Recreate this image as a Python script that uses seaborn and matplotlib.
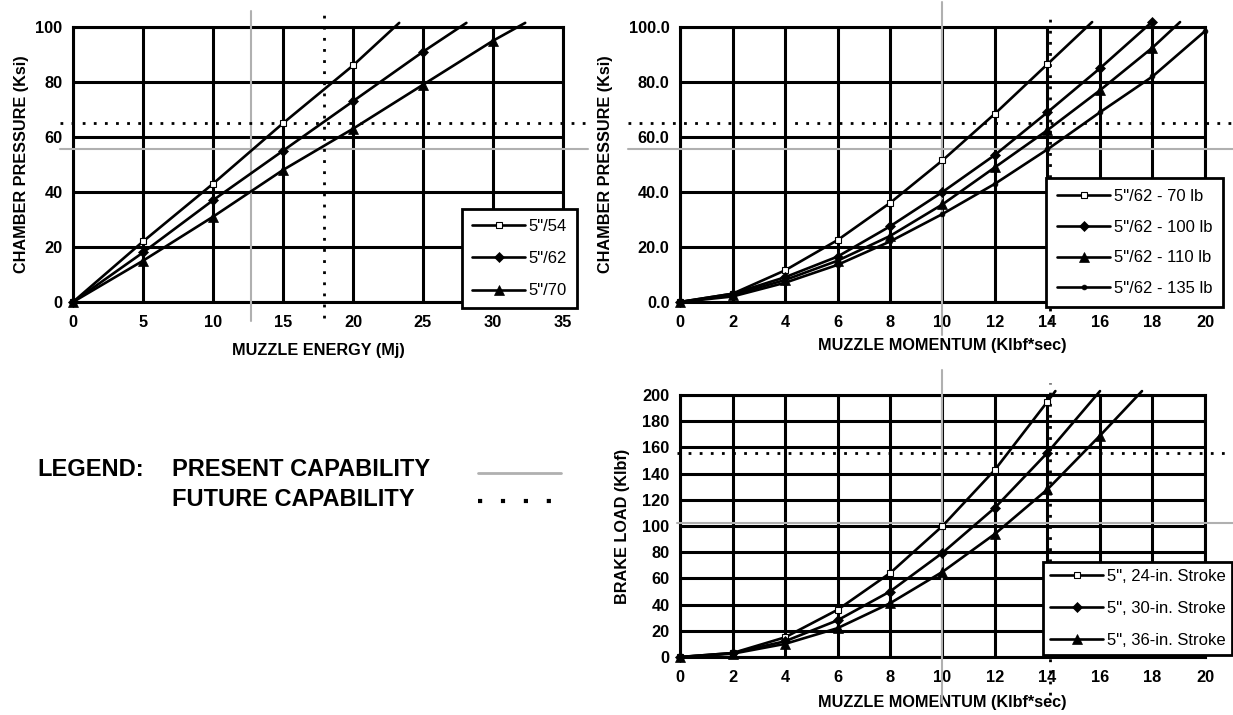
import matplotlib
matplotlib.use('Agg')
import matplotlib.pyplot as plt
from matplotlib.lines import Line2D
import seaborn as sns
import numpy as np

# --- data ---
# top left: chamber pressure vs muzzle energy
energy_54 = [0, 5, 10, 15, 20, 23.3]
press_54 = [0, 22, 43, 65, 86, 101.5]
energy_62 = [0, 5, 10, 15, 20, 25, 28.1]
press_62 = [0, 18, 37, 55, 73, 91, 101.5]
energy_70 = [0, 5, 10, 15, 20, 25, 30, 32.3]
press_70 = [0, 15, 31, 48, 63, 79, 95, 101.5]

# top right: chamber pressure vs muzzle momentum
mom_70lb = [0, 2, 4, 6, 8, 10, 12, 14, 15.7]
press_70lb = [0, 3, 11.5, 22.5, 36, 51.5, 68.5, 86.5, 101.8]
mom_100lb = [0, 2, 4, 6, 8, 10, 12, 14, 16, 18]
press_100lb = [0, 3, 9, 16.5, 27.5, 40, 53.5, 69, 85, 102]
mom_110lb = [0, 2, 4, 6, 8, 10, 12, 14, 16, 18, 19.05]
press_110lb = [0, 2.5, 8, 15, 24, 35.5, 49, 62.5, 77, 92.5, 101.8]
mom_135lb = [0, 2, 4, 6, 8, 10, 12, 14, 16, 18, 20]
press_135lb = [0, 2, 7, 13.5, 22, 32, 43, 55.5, 69, 82, 98.5]

# bottom right: brake load vs muzzle momentum
mom_24 = [0, 2, 4, 6, 8, 10, 12, 14, 14.3]
load_24 = [0, 3, 15, 36, 64, 100, 143, 195, 203]
mom_30 = [0, 2, 4, 6, 8, 10, 12, 14, 16]
load_30 = [0, 3, 12, 28, 50, 79.5, 114, 156, 203]
mom_36 = [0, 2, 4, 6, 8, 10, 12, 14, 16, 17.6]
load_36 = [0, 2.5, 10, 22, 41, 65, 94, 128, 169, 203]

# capability limits (present = gray solid, future = black dotted)
tl_present_x, tl_present_y = 12.7, 55.5
tl_future_x, tl_future_y = 17.9, 65
tr_present_x, tr_present_y = 10, 55.5
tr_future_x, tr_future_y = 14.1, 65
br_present_x, br_present_y = 10, 102
br_future_x, br_future_y = 14.1, 155.5

sns.set_theme(style='white')
plt.rcParams['font.family'] = ['Liberation Sans', 'DejaVu Sans']
plt.rcParams['text.color'] = 'black'
plt.rcParams['axes.labelcolor'] = 'black'
plt.rcParams['xtick.color'] = 'black'
plt.rcParams['ytick.color'] = 'black'

W, H = 1233, 715
fig = plt.figure(figsize=(W / 100, H / 100), dpi=100)

def px_rect(left, right, top, bottom):
    return [left / W, 1 - bottom / H, (right - left) / W, (bottom - top) / H]

ax_tl = fig.add_axes(px_rect(73, 563, 27, 302))
ax_tr = fig.add_axes(px_rect(680, 1205, 27, 302))
ax_br = fig.add_axes(px_rect(680, 1205, 395, 657))

GRAY = '#b0b0b0'
DOT = (0, (1, 3))
LABEL_FS = 11.7
TICK_FS = 11.8

open_mk = dict(marker='s', markersize=4.5, markerfacecolor='white',
               markeredgecolor='black', markeredgewidth=0.8)
diamond_mk = dict(marker='D', markersize=5.5, markerfacecolor='black',
                  markeredgecolor='black', markeredgewidth=0.5)
tri_mk = dict(marker='^', markersize=7, markerfacecolor='black',
              markeredgecolor='black', markeredgewidth=0.5)
dot_mk = dict(marker='o', markersize=3.5, markerfacecolor='black',
              markeredgecolor='black', markeredgewidth=0.5)


def draw(ax, x, y, label, mk, last_marked=False):
    every = None if last_marked else slice(0, len(x) - 1)
    sns.lineplot(x=x, y=y, ax=ax, color='black', linewidth=1.9,
                 markevery=every, clip_on=False, zorder=4, **mk)
    line = ax.lines[-1]
    line.set_label(label)
    return line


def style_axes(ax, xmax, xstep, ymax, ystep, yfmt):
    ax.set_xlim(0, xmax)
    ax.set_ylim(0, ymax)
    ax.set_xticks(np.arange(0, xmax + 0.01, xstep))
    ax.set_yticks(np.arange(0, ymax + 0.01, ystep))
    ax.set_yticklabels([yfmt.format(v) for v in np.arange(0, ymax + 0.01, ystep)])
    ax.grid(True, color='black', linewidth=2.2)
    ax.set_axisbelow(True)
    for s in ax.spines.values():
        s.set_color('black')
        s.set_linewidth(2.2)
    ax.tick_params(axis='both', which='major', direction='out', length=3,
                   width=1.5, color='black', labelsize=TICK_FS, labelcolor='black')
    ax.tick_params(axis='x', pad=6.5)
    ax.tick_params(axis='y', pad=4.5)
    for t in ax.get_xticklabels() + ax.get_yticklabels():
        t.set_fontweight('bold')


def ref_lines(ax, px, py, fx, fy, xr, yr_p, yr_f):
    ax.plot(xr, [py, py], color=GRAY, linewidth=1.5, clip_on=False, zorder=3)
    ax.plot([px, px], yr_p, color=GRAY, linewidth=1.5, clip_on=False, zorder=3)
    ax.plot(xr, [fy, fy], color='black', linewidth=2, linestyle=DOT,
            clip_on=False, zorder=3)
    ax.plot([fx, fx], yr_f, color='black', linewidth=2, linestyle=DOT,
            clip_on=False, zorder=3)


def make_legend(ax, handles, right, top, spacing, pad):
    leg = ax.legend(handles=handles, loc='upper right',
                    bbox_to_anchor=(right / W, 1 - top / H),
                    bbox_transform=fig.transFigure, borderaxespad=0,
                    fontsize=12, frameon=True, fancybox=False, framealpha=1,
                    edgecolor='black', handlelength=3.2, handletextpad=0.2,
                    labelspacing=spacing, borderpad=pad, numpoints=1)
    leg.get_frame().set_linewidth(2)
    leg.set_zorder(10)
    return leg


def labels(ax, xlabel, ylabel, xy, yx):
    ax.set_xlabel(xlabel, fontsize=LABEL_FS, fontweight='bold')
    ax.set_ylabel(ylabel, fontsize=LABEL_FS, fontweight='bold')
    ax.xaxis.set_label_coords(0.5, xy)
    ax.yaxis.set_label_coords(yx, 0.5)


# --- top left ---
ref_lines(ax_tl, tl_present_x, tl_present_y, tl_future_x, tl_future_y,
          [-0.9, 36.8], [-7, 106], [-6, 105])
h = [draw(ax_tl, energy_54, press_54, '5"/54', open_mk),
     draw(ax_tl, energy_62, press_62, '5"/62', diamond_mk),
     draw(ax_tl, energy_70, press_70, '5"/70', tri_mk)]
style_axes(ax_tl, 35, 5, 100, 20, '{:.0f}')
make_legend(ax_tl, h, 577, 209, 1.03, 0.6)
labels(ax_tl, 'MUZZLE ENERGY (Mj)', 'CHAMBER PRESSURE (Ksi)', -0.15, -0.09)

# --- top right ---
ref_lines(ax_tr, tr_present_x, tr_present_y, tr_future_x, tr_future_y,
          [-2.0, 21.07], [-12, 109], [-7.3, 106])
h = [draw(ax_tr, mom_70lb, press_70lb, '5"/62 - 70 lb', open_mk),
     draw(ax_tr, mom_100lb, press_100lb, '5"/62 - 100 lb', diamond_mk, True),
     draw(ax_tr, mom_110lb, press_110lb, '5"/62 - 110 lb', tri_mk),
     draw(ax_tr, mom_135lb, press_135lb, '5"/62 - 135 lb', dot_mk, True)]
style_axes(ax_tr, 20, 2, 100, 20, '{:.1f}')
make_legend(ax_tr, h, 1223, 178, 0.95, 0.65)
labels(ax_tr, 'MUZZLE MOMENTUM (Klbf*sec)', 'CHAMBER PRESSURE (Ksi)', -0.13, -0.128)

# --- bottom right ---
ref_lines(ax_br, br_present_x, br_present_y, br_future_x, br_future_y,
          [-0.1, 21.07], [-35, 219], [-29, 209])
h = [draw(ax_br, mom_24, load_24, '5", 24-in. Stroke', open_mk),
     draw(ax_br, mom_30, load_30, '5", 30-in. Stroke', diamond_mk),
     draw(ax_br, mom_36, load_36, '5", 36-in. Stroke', tri_mk)]
style_axes(ax_br, 20, 2, 200, 20, '{:.0f}')
make_legend(ax_br, h, 1232, 562, 1.03, 0.4)
labels(ax_br, 'MUZZLE MOMENTUM (Klbf*sec)', 'BRAKE LOAD (Klbf)', -0.145, -0.095)

# --- key for the capability lines ---
fig.text(37.5 / W, 1 - 469 / H, 'LEGEND:', fontsize=17, fontweight='bold', va='center')
fig.text(172 / W, 1 - 469 / H, 'PRESENT CAPABILITY', fontsize=17, fontweight='bold', va='center')
fig.text(172 / W, 1 - 499 / H, 'FUTURE CAPABILITY', fontsize=17, fontweight='bold', va='center')
fig.add_artist(Line2D([478 / W, 561 / W], [1 - 473 / H] * 2, color=GRAY, linewidth=2))
fig.add_artist(Line2D([478 / W, 556 / W], [1 - 501 / H] * 2, color='black',
                      linewidth=3, linestyle=(0, (1, 4.5))))

fig.savefig('out.png', dpi=100)
